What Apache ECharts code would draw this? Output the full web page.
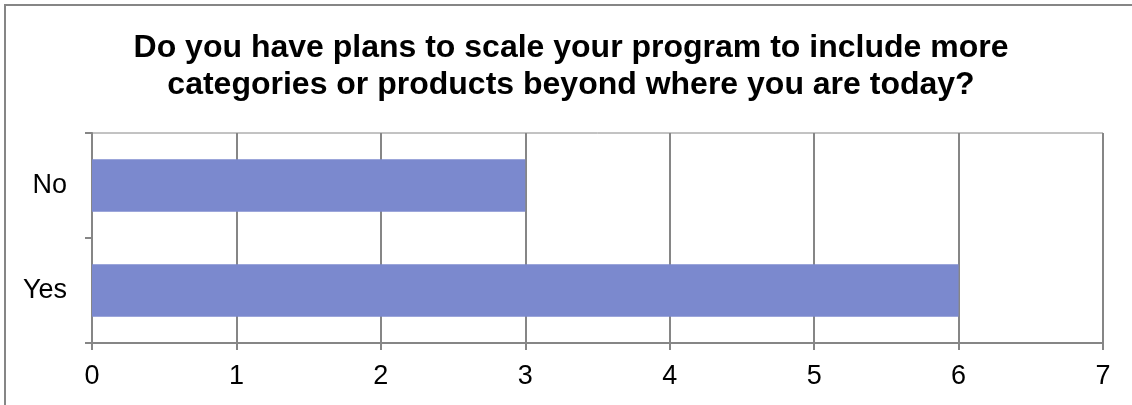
<!DOCTYPE html>
<html>
<head>
<meta charset="utf-8">
<script src="https://cdn.jsdelivr.net/npm/echarts@6/dist/echarts.min.js"></script>
<style>
  html, body { margin: 0; padding: 0; background: #ffffff; }
  #chart { width: 1132px; height: 405px; }
</style>
</head>
<body>
<div id="chart"></div>
<script>
// Survey answers and their counts
const categories = ['Yes', 'No'];
const counts = [6, 3];
const valueTicks = [0, 1, 2, 3, 4, 5, 6, 7];
const titleText = 'Do you have plans to scale your program to include more\ncategories or products beyond where you are today?';

const chart = echarts.init(document.getElementById('chart'), null, { renderer: 'canvas' });
const gray = '#868686';
const font = '"Liberation Sans", Arial, sans-serif';

chart.setOption({
  animation: false,
  backgroundColor: '#ffffff',
  graphic: [{
    type: 'rect',
    shape: { x: 5, y: 5, width: 1200, height: 460 },
    style: { fill: 'none', stroke: gray, lineWidth: 2 },
    silent: true
  }],
  title: {
    text: titleText,
    left: 571,
    textAlign: 'center',
    top: 30,
    padding: 0,
    textStyle: {
      fontFamily: font,
      fontSize: 32,
      fontWeight: 'bold',
      color: '#000000',
      lineHeight: 37
    }
  },
  grid: {
    left: 92,
    right: 1132 - 1103,
    top: 133,
    bottom: 405 - 343,
    show: true,
    borderColor: gray,
    borderWidth: 1,
    backgroundColor: 'transparent'
  },
  xAxis: {
    type: 'value',
    min: valueTicks[0],
    max: valueTicks[valueTicks.length - 1],
    interval: 1,
    axisLine: { show: true, lineStyle: { color: gray, width: 2 } },
    axisTick: { show: true, length: 7, lineStyle: { color: gray, width: 2 } },
    splitLine: { show: true, lineStyle: { color: gray, width: 2 } },
    axisLabel: {
      color: '#000000',
      fontFamily: font,
      fontSize: 27,
      margin: 20
    }
  },
  yAxis: {
    type: 'category',
    data: categories,
    axisLine: { show: true, lineStyle: { color: gray, width: 2 } },
    axisTick: { show: true, length: 7, lineStyle: { color: gray, width: 2 } },
    splitLine: { show: false },
    axisLabel: {
      color: '#000000',
      fontFamily: font,
      fontSize: 27,
      margin: 25
    }
  },
  series: [{
    type: 'bar',
    data: counts,
    barWidth: '50%',
    itemStyle: { color: '#7B89CE' },
    silent: true
  }]
});
</script>
</body>
</html>
